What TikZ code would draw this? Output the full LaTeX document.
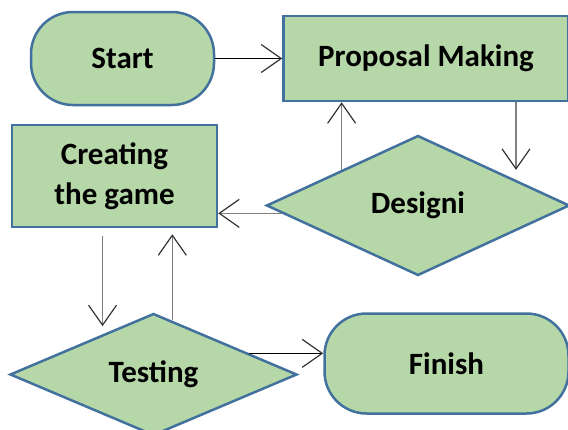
\documentclass[tikz,border=0pt]{standalone}
\usepackage{fontspec}
\setmainfont{Carlito}
\usetikzlibrary{arrows.meta, positioning, shapes.geometric, calc}
\definecolor{boxfill}{HTML}{B6D7A8}
\definecolor{boxline}{HTML}{41719C}

\begin{document}
\begin{tikzpicture}[x=1pt, y=-1pt]
		\tikzstyle{Terminal} = [rectangle, rounded corners=42pt, text centered, draw=boxline, fill=boxfill, line width=2.5pt, font=\fontsize{31}{40}\selectfont\bfseries]
		\tikzstyle{Process} = [rectangle, align=center, draw=boxline, fill=boxfill, line width=2.5pt, font=\fontsize{31}{40}\selectfont\bfseries]
		\tikzstyle{Decision} = [diamond, inner sep=0pt, text centered, draw=boxline, fill=boxfill, line width=2.5pt, font=\fontsize{31}{40}\selectfont\bfseries]
		\tikzstyle{arrow} = [line width=1.3pt, draw=gray, ->, >={Straight Barb[length=20pt, width=28pt, line width=1.2pt, color=black!80]}]
		\tikzstyle{blackarrow} = [arrow, draw=black]

		\useasboundingbox (0,0) rectangle (568,429);

		\node (start) [Terminal, minimum width=183pt, minimum height=93pt] at (122.5,58.5) {Start};
		\node (prop) [Process, minimum width=285pt, minimum height=85pt, right = 67pt of start] {Proposal Making};
		\node (des) [Decision, minimum width=303pt, minimum height=140pt, below = 32pt of prop, xshift=-8pt] {Designi};
		\node (crea) [Process, minimum width=205pt, minimum height=102pt] at (114.5,176) {Creating\\the game};
		\node (test) [Decision, minimum width=287pt, minimum height=122pt, below = 84pt of crea, xshift=39pt] {Testing};
		\node (fin) [Terminal, minimum width=244pt, minimum height=100pt, right = 25pt of test, yshift=11pt] {Finish};

		% points on the diamond edges
		\coordinate (d1) at ([xshift=90pt]prop.south);
		\coordinate (dw) at ($(des.west)!0.11!(des.south)$);
		\coordinate (t1) at ($(test.west)!0.648!(test.north)$);
		\coordinate (t2) at ($(test.north)!0.13!(test.east)$);
		\coordinate (t3) at ($(test.north)!0.66!(test.east)$);

		\draw [blackarrow] (start.east) -- (start.east -| prop.west);
		\draw [arrow] (des.north west) -- (des.north west |- prop.south);
		\draw [arrow] (d1) -- (d1 |- des.north west);
		\draw [arrow] (dw) -- (dw -| crea.east);
		\draw [arrow, shorten <=8pt, shorten >=8pt] (t1 |- crea.south) -- (t1);
		\draw [arrow, shorten >=6pt] (t2) -- (t2 |- crea.south);
		\draw [blackarrow] (t3) -- (t3 -| fin.west);

		\end{tikzpicture}
\end{document}
